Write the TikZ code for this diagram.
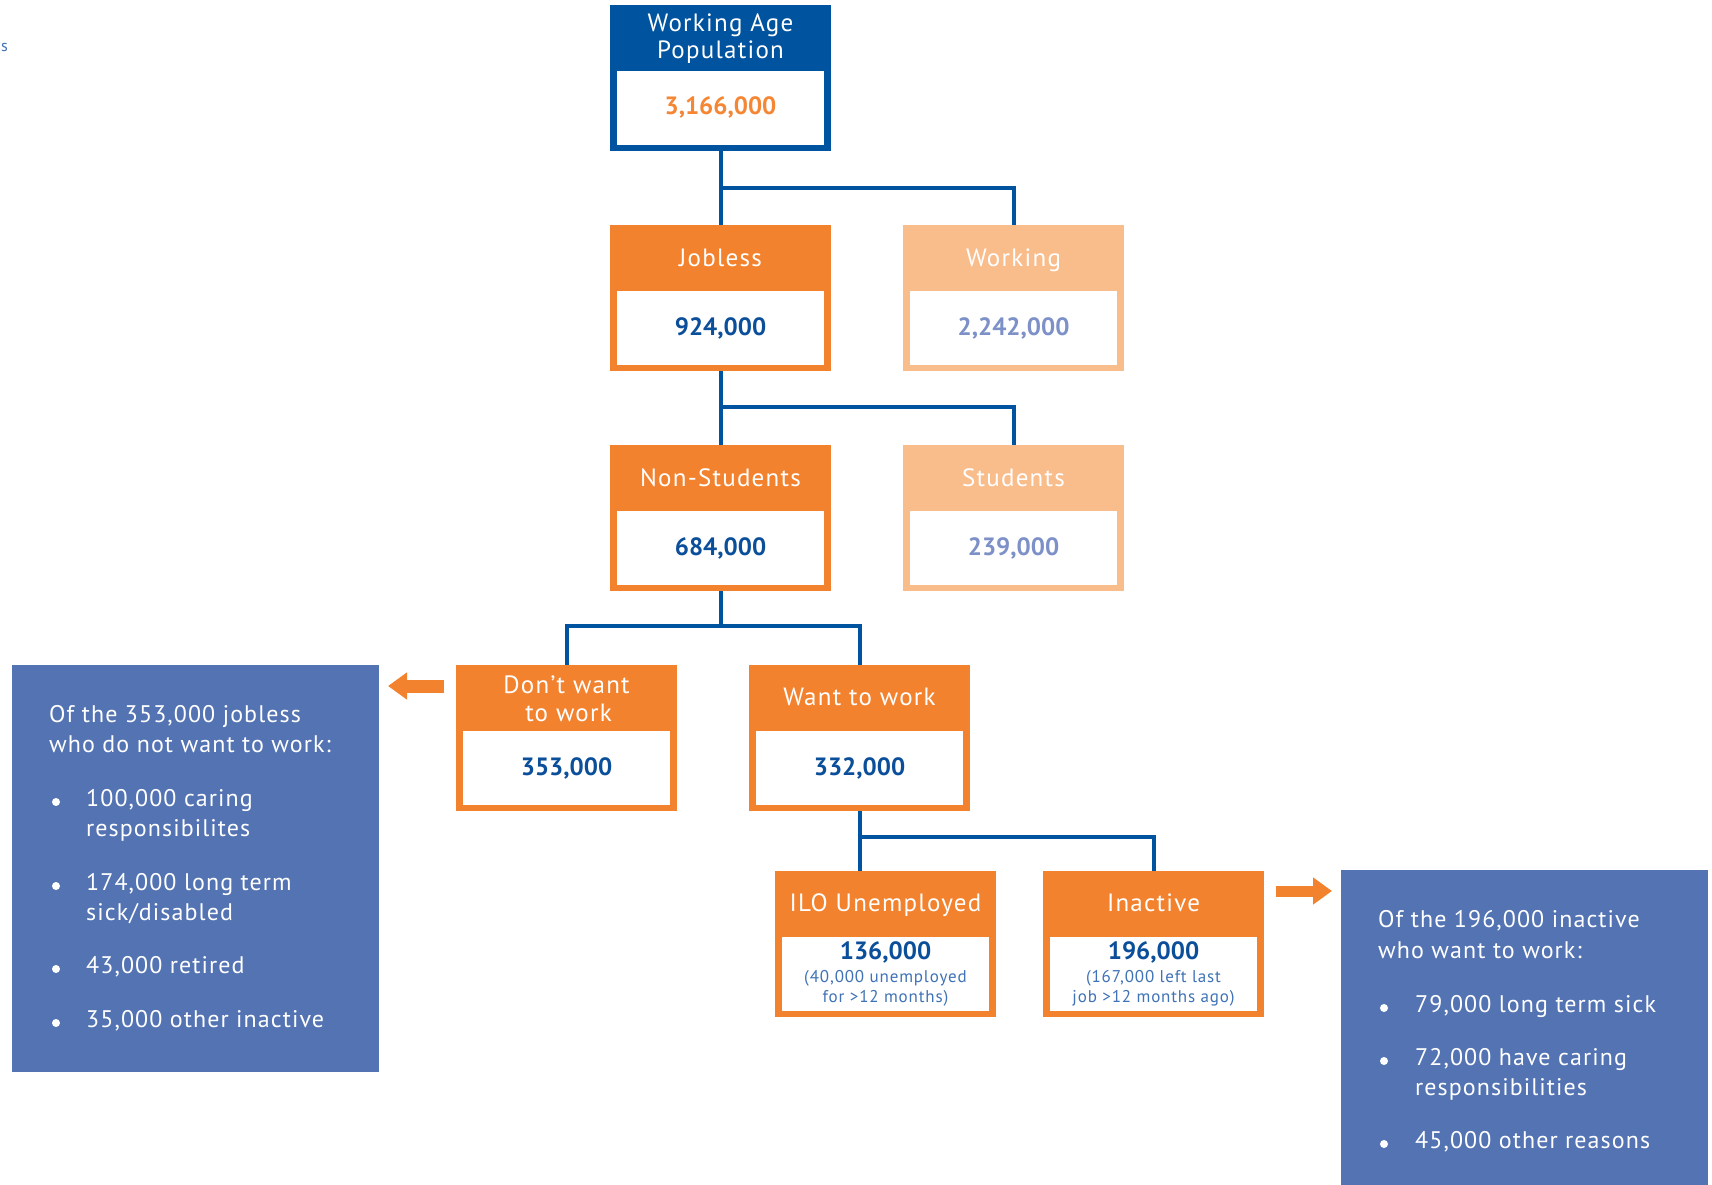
\documentclass[tikz,border=0pt]{standalone}
\usepackage{fontspec}
\setmainfont{PT Sans}
\newfontfamily\spacedA{PT Sans}[LetterSpace=5]
\newfontfamily\spacedB{PT Sans}[LetterSpace=4.5]
\usetikzlibrary{arrows.meta}
\definecolor{dblue}{HTML}{00539F}
\definecolor{orng}{HTML}{F3822E}
\definecolor{lorng}{HTML}{F9BC8B}
\definecolor{numblue}{HTML}{0B4F9B}
\definecolor{lnum}{HTML}{7D91C8}
\definecolor{subblue}{HTML}{3F72B6}
\definecolor{infoblue}{HTML}{5373B3}
\definecolor{topnum}{HTML}{F58634}
\newcommand\mkbox[4]{%
  \node[boxst, fill=#4] (#1) at (#2,#3) {};
  \node[innerst] (#1w) at ([xshift=7pt,yshift=-66pt]#1.north west) {};}
\begin{document}
\begin{tikzpicture}[x=1pt,y=-1pt,
  boxst/.style={rectangle, inner sep=0pt, outer sep=0pt, minimum width=221pt, minimum height=146pt, anchor=north west},
  innerst/.style={rectangle, fill=white, inner sep=0pt, outer sep=0pt, minimum width=207pt, minimum height=74pt, anchor=north west},
  head/.style={text=white, font=\spacedA\fontsize{25}{27}\selectfont, anchor=base, inner sep=0pt},
  num/.style={text=numblue, font=\bfseries\fontsize{25}{27}\selectfont, anchor=base, inner sep=0pt},
  subt/.style={text=subblue, font=\spacedA\fontsize{17}{20}\selectfont, anchor=base, inner sep=0pt},
  conn/.style={draw=dblue, line width=4pt},
  infobox/.style={rectangle, fill=infoblue, inner sep=0pt, outer sep=0pt, anchor=north west},
  info/.style={text=white, font=\spacedB\fontsize{24}{30}\selectfont, anchor=base west, inner sep=0pt},
  bul/.style={fill=white},
  oarrow/.style={draw=orng, -{Triangle[length=19pt,width=26pt]}}
]
\useasboundingbox (0,0) rectangle (1712,1185);
\node[text=subblue, font=\fontsize{16}{18}\selectfont, anchor=base west, inner sep=0pt] (tinys) at (1,52) {s};

\mkbox{top}{610}{5}{dblue}
\mkbox{jobless}{610}{225}{orng}
\mkbox{working}{903}{225}{lorng}
\mkbox{nonstud}{610}{445}{orng}
\mkbox{students}{903}{445}{lorng}
\mkbox{dont}{456}{665}{orng}
\mkbox{want}{749}{665}{orng}
\mkbox{ilo}{775}{871}{orng}
\mkbox{inactive}{1043}{871}{orng}

% connectors
\draw[conn] (top.south) -- (jobless.north);
\draw[conn] (top.south) ++(0,37) coordinate (c1) -| (working.north);
\draw[conn] (jobless.south) -- (nonstud.north);
\draw[conn] (jobless.south) ++(0,36) coordinate (c2) -| (students.north);
\draw[conn] (nonstud.south) -- ++(0,35) coordinate (c3);
\draw[conn] (c3) -| (dont.north);
\draw[conn] (c3) -| (want.north);
\draw[conn] (want.south) -- (want.south |- ilo.north);
\draw[conn] (want.south) ++(0,26) coordinate (c4) -| (inactive.north);

% header texts
\node[head] (topt1) at ([yshift=-27pt]top.north) {Working Age};
\node[head] (topt2) at ([yshift=-54pt]top.north) {Population};
\node[num, text=topnum] (topn) at ([yshift=-110pt]top.north) {3,166,000};

\node[head] (jobt) at ([yshift=-41pt]jobless.north) {Jobless};
\node[num] (jobn) at ([yshift=-110pt]jobless.north) {924,000};

\node[head] (workt) at ([yshift=-41pt]working.north) {Working};
\node[num, text=lnum] (workn) at ([yshift=-110pt]working.north) {2,242,000};

\node[head] (nont) at ([yshift=-41pt]nonstud.north) {Non-Students};
\node[num] (nonn) at ([yshift=-110pt]nonstud.north) {684,000};

\node[head] (stut) at ([yshift=-41pt]students.north) {Students};
\node[num, text=lnum] (stun) at ([yshift=-110pt]students.north) {239,000};

\node[head] (dontt1) at ([yshift=-28pt]dont.north) {Don’t want};
\node[head] (dontt2) at ([xshift=2pt,yshift=-56pt]dont.north) {to work};
\node[num] (dontn) at ([yshift=-110pt]dont.north) {353,000};

\node[head] (wantt) at ([yshift=-40pt]want.north) {Want to work};
\node[num] (wantn) at ([yshift=-110pt]want.north) {332,000};

\node[head] (ilot) at ([yshift=-40pt]ilo.north) {ILO Unemployed};
\node[num] (ilon) at ([yshift=-88pt]ilo.north) {136,000};
\node[subt] (ilos1) at ([yshift=-111pt]ilo.north) {(40,000 unemployed};
\node[subt] (ilos2) at ([yshift=-131pt]ilo.north) {for >12 months)};

\node[head] (inat) at ([yshift=-40pt]inactive.north) {Inactive};
\node[num] (inan) at ([yshift=-88pt]inactive.north) {196,000};
\node[subt] (inas1) at ([yshift=-111pt]inactive.north) {(167,000 left last};
\node[subt] (inas2) at ([yshift=-131pt]inactive.north) {job >12 months ago)};

% arrows
\coordinate (la0) at (444,686);
\coordinate (la1) at (388,686);
\draw[oarrow, line width=13pt] (la0) -- (la1);
\coordinate (ra0) at (1276,891);
\coordinate (ra1) at (1332,891);
\draw[oarrow, line width=11pt] (ra0) -- (ra1);

% info boxes
\node[infobox, minimum width=367pt, minimum height=407pt] (leftinfo) at (12,665) {};
\node[info] (l1) at (49,722) {Of the 353,000 jobless};
\node[info] (l2) at (49,752) {who do not want to work:};
\fill[bul] (56,802) circle (4);
\node[info] (l3) at (86,806) {100,000 caring};
\node[info] (l4) at (86,836) {responsibilites};
\fill[bul] (56,886) circle (4);
\node[info] (l5) at (86,890) {174,000 long term};
\node[info] (l6) at (86,920) {sick/disabled};
\fill[bul] (56,969) circle (4);
\node[info] (l7) at (86,973) {43,000 retired};
\fill[bul] (56,1023) circle (4);
\node[info] (l8) at (86,1027) {35,000 other inactive};

\node[infobox, minimum width=367pt, minimum height=315pt] (rightinfo) at (1341,870) {};
\node[info] (r1) at (1378,927) {Of the 196,000 inactive};
\node[info] (r2) at (1378,958) {who want to work:};
\fill[bul] (1384,1008) circle (4);
\node[info] (r3) at (1415,1012) {79,000 long term sick};
\fill[bul] (1384,1061) circle (4);
\node[info] (r4) at (1415,1065) {72,000 have caring};
\node[info] (r5) at (1415,1095) {responsibilities};
\fill[bul] (1384,1144) circle (4);
\node[info] (r6) at (1415,1148) {45,000 other reasons};
\end{tikzpicture}
\end{document}
